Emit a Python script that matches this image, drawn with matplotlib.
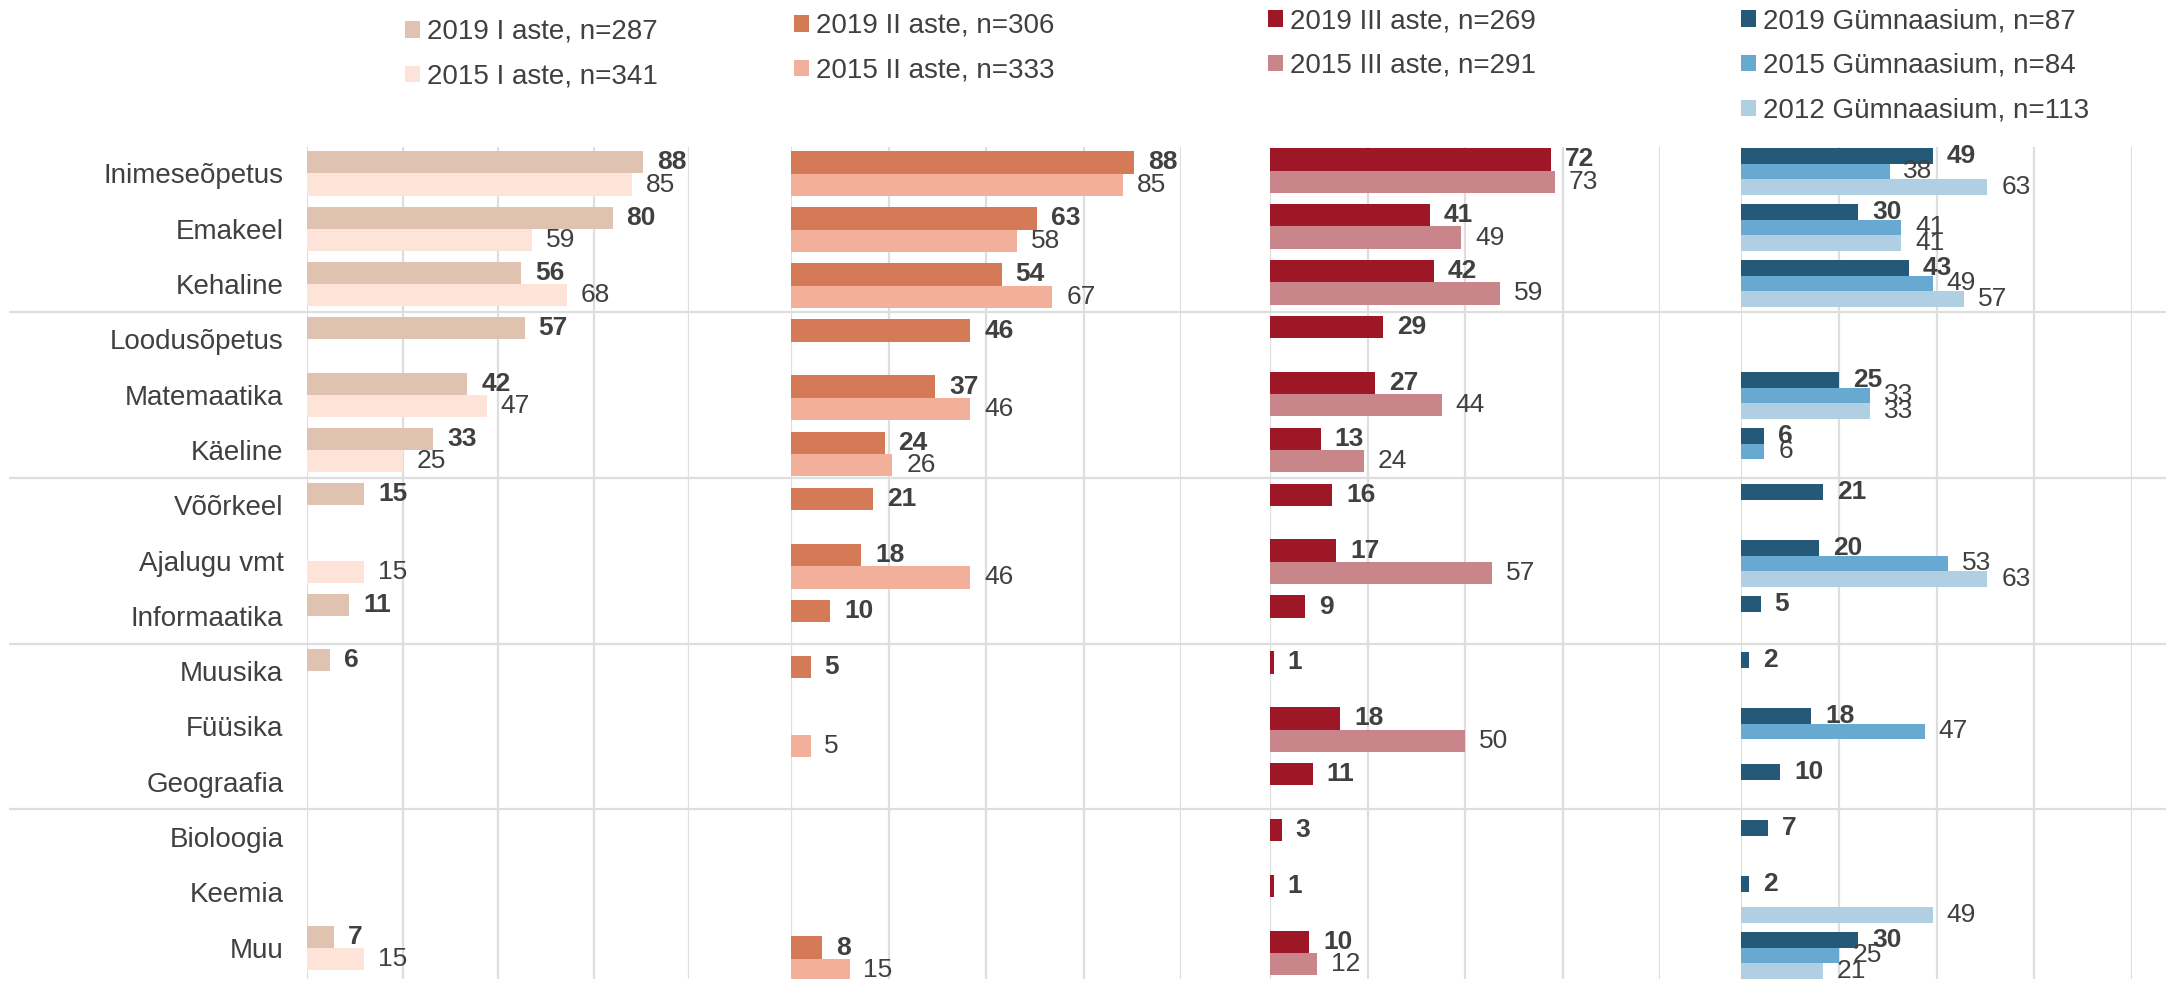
import numpy as np
import matplotlib.pyplot as plt

plt.rcParams['font.family'] = ['Liberation Sans', 'DejaVu Sans']

nan = np.nan

categories = ["Inimeseõpetus", "Emakeel", "Kehaline", "Loodusõpetus", "Matemaatika",
              "Käeline", "Võõrkeel", "Ajalugu vmt", "Informaatika", "Muusika",
              "Füüsika", "Geograafia", "Bioloogia", "Keemia", "Muu"]

# I aste
i_2019 = [88, 80, 56, 57, 42, 33, 15, nan, 11, 6, nan, nan, nan, nan, 7]
i_2015 = [85, 59, 68, nan, 47, 25, nan, 15, nan, nan, nan, nan, nan, nan, 15]
# II aste
ii_2019 = [88, 63, 54, 46, 37, 24, 21, 18, 10, 5, nan, nan, nan, nan, 8]
ii_2015 = [85, 58, 67, nan, 46, 26, nan, 46, nan, nan, 5, nan, nan, nan, 15]
# III aste
iii_2019 = [72, 41, 42, 29, 27, 13, 16, 17, 9, 1, 18, 11, 3, 1, 10]
iii_2015 = [73, 49, 59, nan, 44, 24, nan, 57, nan, nan, 50, nan, nan, nan, 12]
# Gümnaasium
g_2019 = [49, 30, 43, nan, 25, 6, 21, 20, 5, 2, 18, 10, 7, 2, 30]
g_2015 = [38, 41, 49, nan, 33, 6, nan, 53, nan, nan, 47, nan, nan, nan, 25]
g_2012 = [63, 41, 57, nan, 33, nan, nan, 63, nan, nan, nan, nan, nan, 49, 21]

panel_series = [
    [i_2019, i_2015],
    [ii_2019, ii_2015],
    [iii_2019, iii_2015],
    [g_2019, g_2015, g_2012],
]
panel_labels = [
    ["2019 I aste, n=287", "2015 I aste, n=341"],
    ["2019 II aste, n=306", "2015 II aste, n=333"],
    ["2019 III aste, n=269", "2015 III aste, n=291"],
    ["2019 Gümnaasium, n=87", "2015 Gümnaasium, n=84", "2012 Gümnaasium, n=113"],
]
panel_colors = [
    ["#DFC2B0", "#FDE3D8"],
    ["#D57A57", "#F2AF9A"],
    ["#9E1726", "#C8868A"],
    ["#245A78", "#67A9D0", "#B1CFE3"],
]
separators = [2.5, 5.5, 8.5, 11.5]

W, H = 2166, 985
text_color = "#404040"
grid_color = "#DEDEDE"

fig = plt.figure(figsize=(W / 100, H / 100), dpi=100)

# pixel layout of the four panels: left edge, width, first row centre, row step
panel_px = [(307, 382, 173.5, 55.3), (791, 390, 173.5, 56.1),
            (1270, 390, 170.5, 55.9), (1741, 391, 171.5, 56.0)]
top_px, bot_px = 147, 979
ax_bottom = 1 - bot_px / H
ax_height = (bot_px - top_px) / H


def px_ylim(c0, step):
    return ((bot_px - c0) / step, (top_px - c0) / step)


# background axis for the full-width separator lines
bg = fig.add_axes([9 / W, ax_bottom, 1 - 9 / W, ax_height])
bg.set_xlim(0, 1)
bg.set_ylim(*px_ylim(173.5, 55.3))
bg.axis('off')
for s in separators:
    bg.axhline(s, color=grid_color, lw=1.6)

y = np.arange(len(categories))
legend_pos = [(405, 19), (794, 13), (1268, 8), (1741, 8)]

for p, (left, width, c0, step) in enumerate(panel_px):
    ax = fig.add_axes([left / W, ax_bottom, width / W, ax_height])
    ax.set_facecolor('none')
    for sp in ax.spines.values():
        sp.set_visible(False)
    ax.set_xlim(0, 100)
    ax.set_ylim(*px_ylim(c0, step))
    ax.set_xticks([0, 25, 50, 75, 100])
    ax.xaxis.grid(True, color=grid_color, lw=1.6)
    ax.set_axisbelow(True)
    ax.tick_params(axis='x', length=0, labelbottom=False)
    if p == 0:
        ax.set_yticks(y)
        ax.set_yticklabels(categories, fontsize=20, color=text_color)
        ax.tick_params(axis='y', length=0, pad=17)
    else:
        ax.set_yticks([])

    series = panel_series[p]
    n = len(series)
    h = 0.40 if n == 2 else 0.28
    handles = []
    for k, vals in enumerate(series):
        vals = np.array(vals, dtype=float)
        off = (k - (n - 1) / 2) * h
        bars = ax.barh(y + off, vals, height=h, color=panel_colors[p][k],
                       label=panel_labels[p][k])
        handles.append(bars)
        labels = ["" if np.isnan(v) else f"{v:.0f}" for v in vals]
        ax.bar_label(bars, labels=labels, padding=10, fontsize=19,
                     color=text_color, fontweight='bold' if k == 0 else 'normal')

    lx, ly = legend_pos[p]
    fig.legend(handles=handles, loc='upper left',
               bbox_to_anchor=(lx / W, 1 - ly / H), frameon=False,
               fontsize=20, labelcolor=text_color, handlelength=0.55,
               handleheight=0.55, handletextpad=0.25, labelspacing=0.68,
               borderpad=0, borderaxespad=0)

fig.savefig("out.png", dpi=100)
